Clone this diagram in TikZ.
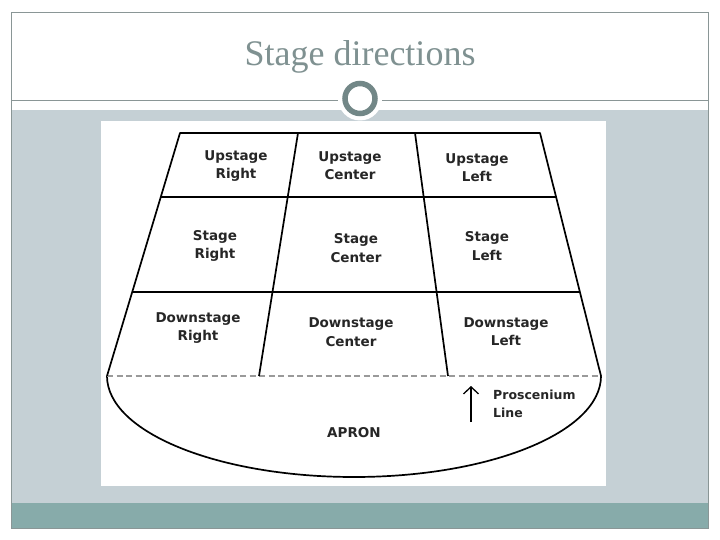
\documentclass[tikz,border=0pt]{standalone}
\usepackage{fontspec}
\setmainfont{Liberation Serif}
\newfontfamily\labfont{DejaVu Sans}
\usetikzlibrary{calc,arrows.meta}
\definecolor{framec}{HTML}{8A9696}
\definecolor{bandgray}{HTML}{C5D0D5}
\definecolor{bandteal}{HTML}{87ABAA}
\definecolor{titlec}{HTML}{7F9191}
\definecolor{ringc}{HTML}{728787}
\definecolor{dashc}{HTML}{9A9A9A}
\tikzset{
  lab/.style={font=\labfont\bfseries\fontsize{13.5}{18.5}\selectfont, align=center, inner sep=0pt, text=black!85},
  stageline/.style={line width=1.7pt, black, line join=round},
  proline/.style={line width=1.8pt, dashc, dash pattern=on 6pt off 3.5pt},
}
\begin{document}
\begin{tikzpicture}[x=1pt,y=-1pt]
\useasboundingbox (0,0) rectangle (720,540);
\fill[white] (0,0) rectangle (720,540);
% slide background
\fill[bandgray] (11,110) rectangle (708,503);
\fill[bandteal] (11,503) rectangle (708,528);
\draw[framec, line width=0.8pt] (11,12) rectangle (708,528);
\draw[framec, line width=1pt] (11,100.5) -- (708,100.5);
\fill[white] (360,98.5) circle[radius=22];
\draw[ringc, line width=5.5pt] (360,98.5) circle[radius=15];
\node[anchor=base, text=titlec, font=\fontsize{36}{42}\selectfont, inner sep=0pt] (title) at (360,66) {Stage directions};
% picture area
\fill[white] (101,121) rectangle (606,486);
% stage coordinates
\coordinate (TL) at (180,133);
\coordinate (TR) at (540,133);
\coordinate (BL) at (107,376);
\coordinate (BR) at (601,376);
\coordinate (D1T) at (298,133);
\coordinate (D1B) at (259,376);
\coordinate (D2T) at (415,133);
\coordinate (D2B) at (448,376);
% apron
\draw[stageline] (BL) .. controls (107,431.8) and (217,477) .. (354,477)
                      .. controls (491,477) and (601,431.8) .. (BR);
\draw[proline] (BL) -- (BR);
% stage grid
\draw[stageline] (BL) -- (TL) -- (TR) -- (BR);
\draw[stageline] (D1T) -- (D1B);
\draw[stageline] (D2T) -- (D2B);
\draw[stageline] ($(TL)!0.2634!(BL)$) -- ($(TR)!0.2634!(BR)$);
\draw[stageline] ($(TL)!0.6543!(BL)$) -- ($(TR)!0.6543!(BR)$);
% labels
\node[lab] (ur) at (236,166) {Upstage\\Right};
\node[lab] (uc) at (350,165.5) {Upstage\\Center};
\node[lab] (ul) at (477,167.5) {Upstage\\Left};
\node[lab] (sr) at (215,246) {Stage\\Right};
\node[lab] (sc) at (356,248) {Stage\\Center};
\node[lab] (sl) at (487,246) {Stage\\Left};
\node[lab] (dr) at (198,328) {Downstage\\Right};
\node[lab] (dc) at (351,332) {Downstage\\Center};
\node[lab] (dl) at (506,331.5) {Downstage\\Left};
\node[lab] (apron) at (354,433) {APRON};
\node[lab, align=left, anchor=west, font=\labfont\bfseries\fontsize{12.5}{18}\selectfont] (pros) at (493,404) {Proscenium\\Line};
% proscenium arrow
\coordinate (pa) at (471,422);
\coordinate (pb) at (471,386);
\draw[line width=1.5pt, -{Straight Barb[length=7pt,width=15pt,line width=1.3pt]}] (pa) -- (pb);
\end{tikzpicture}
\end{document}
